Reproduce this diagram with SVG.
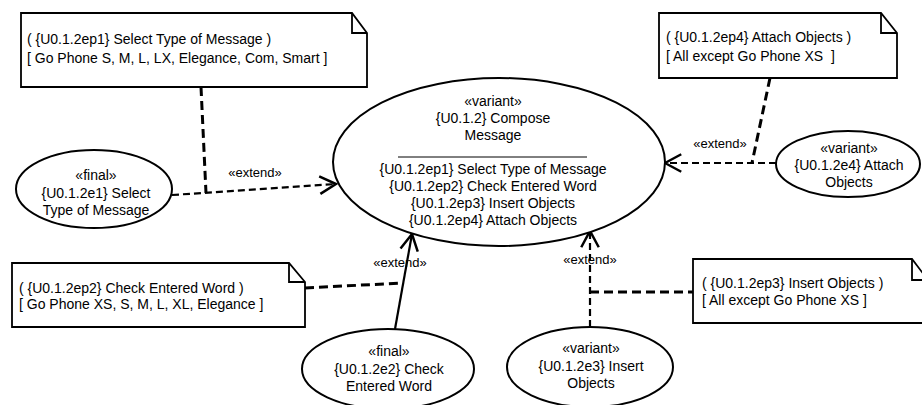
<svg xmlns="http://www.w3.org/2000/svg" width="922" height="405" viewBox="0 0 922 405">
<style>
text{font-family:"Liberation Sans",Arial,sans-serif;font-size:14px;fill:#000;white-space:pre}
.c{text-anchor:middle}
.lbl{font-size:13px;text-anchor:middle}
.uc{fill:#fff;stroke:#000;stroke-width:2}
.note{fill:#fff;stroke:#000;stroke-width:1.8}
.fold{fill:none;stroke:#000;stroke-width:1.8}
.ext{fill:none;stroke:#000;stroke-width:2.2;stroke-dasharray:7 4}
.solid{fill:none;stroke:#000;stroke-width:2.2}
.link{fill:none;stroke:#000;stroke-width:3;stroke-dasharray:9 5}
</style>
<defs>
<marker id="open" markerUnits="userSpaceOnUse" markerWidth="20" markerHeight="20" viewBox="-14 -8 16 16" refX="0" refY="0" orient="auto">
<path d="M-13,-7 L0,0 L-13,7" fill="none" stroke="#000" stroke-width="2"/>
</marker>
</defs>
<rect width="922" height="405" fill="#fff"/>

<g id="connectors">
<path class="ext" d="M172,195 L336,184" marker-end="url(#open)"/>
<path class="link" d="M201,87 L206,193"/>
<path class="ext" d="M776,163 L665,163" marker-end="url(#open)"/>
<path class="link" d="M770,78 L752,163"/>
<path class="solid" d="M395,329 L412,234" marker-end="url(#open)"/>
<path class="link" d="M305,288 L402,283"/>
<path class="ext" d="M590,327 L590,231" marker-end="url(#open)"/>
<path class="link" d="M590,292 L693,292"/>
<text class="lbl" x="255" y="177">«extend»</text>
<text class="lbl" x="720" y="148">«extend»</text>
<text class="lbl" x="400" y="267">«extend»</text>
<text class="lbl" x="590" y="264">«extend»</text>
</g>

<g id="main">
<ellipse class="uc" cx="499" cy="162" rx="166" ry="84"/>
<text class="c" x="493" y="106">«variant»</text>
<text class="c" x="493" y="123">{U0.1.2} Compose</text>
<text class="c" x="493" y="140">Message</text>
<line x1="398" y1="157" x2="587" y2="157" stroke="#000" stroke-width="1"/>
<text class="c" x="493" y="174">{U0.1.2ep1} Select Type of Message</text>
<text class="c" x="493" y="191">{U0.1.2ep2} Check Entered Word</text>
<text class="c" x="493" y="208">{U0.1.2ep3} Insert Objects</text>
<text class="c" x="493" y="225">{U0.1.2ep4} Attach Objects</text>
</g>

<g id="e1">
<ellipse class="uc" cx="94" cy="189" rx="78" ry="39"/>
<text class="c" x="96" y="180">«final»</text>
<text class="c" x="96" y="198">{U0.1.2e1} Select</text>
<text class="c" x="96" y="215">Type of Message</text>
</g>

<g id="e4">
<ellipse class="uc" cx="848" cy="164" rx="72" ry="33"/>
<text class="c" x="849" y="153">«variant»</text>
<text class="c" x="849" y="170">{U0.1.2e4} Attach</text>
<text class="c" x="849" y="187">Objects</text>
</g>

<g id="e2">
<ellipse class="uc" cx="388" cy="369" rx="86" ry="40"/>
<text class="c" x="389" y="356">«final»</text>
<text class="c" x="389" y="374">{U0.1.2e2} Check</text>
<text class="c" x="389" y="391">Entered Word</text>
</g>

<g id="e3">
<ellipse class="uc" cx="590" cy="367" rx="83" ry="40"/>
<text class="c" x="591" y="353">«variant»</text>
<text class="c" x="591" y="371">{U0.1.2e3} Insert</text>
<text class="c" x="591" y="388">Objects</text>
</g>

<g id="note1">
<path class="note" d="M21,13 H352 L367,33 V87 H21 Z"/>
<path class="fold" d="M352,13 V33 H367"/>
<text x="27" y="44">( {U0.1.2ep1} Select Type of Message )</text>
<text x="27" y="63">[ Go Phone S, M, L, LX, Elegance, Com, Smart ]</text>
</g>

<g id="note4">
<path class="note" d="M659,13 H881 L897,33 V78 H659 Z"/>
<path class="fold" d="M881,13 V33 H897"/>
<text x="666" y="42">( {U0.1.2ep4} Attach Objects )</text>
<text x="666" y="61">[ All except Go Phone XS  ]</text>
</g>

<g id="note2">
<path class="note" d="M12,263 H289 L305,282 V327 H12 Z"/>
<path class="fold" d="M289,263 V282 H305"/>
<text x="19" y="293">( {U0.1.2ep2} Check Entered Word )</text>
<text x="19" y="309">[ Go Phone XS, S, M, L, XL, Elegance ]</text>
</g>

<g id="note3">
<path class="note" d="M693,259 H912 L928,280 V323 H693 Z"/>
<path class="fold" d="M912,259 V280 H928"/>
<text x="702" y="288">( {U0.1.2ep3} Insert Objects )</text>
<text x="702" y="305">[ All except Go Phone XS ]</text>
</g>
</svg>
